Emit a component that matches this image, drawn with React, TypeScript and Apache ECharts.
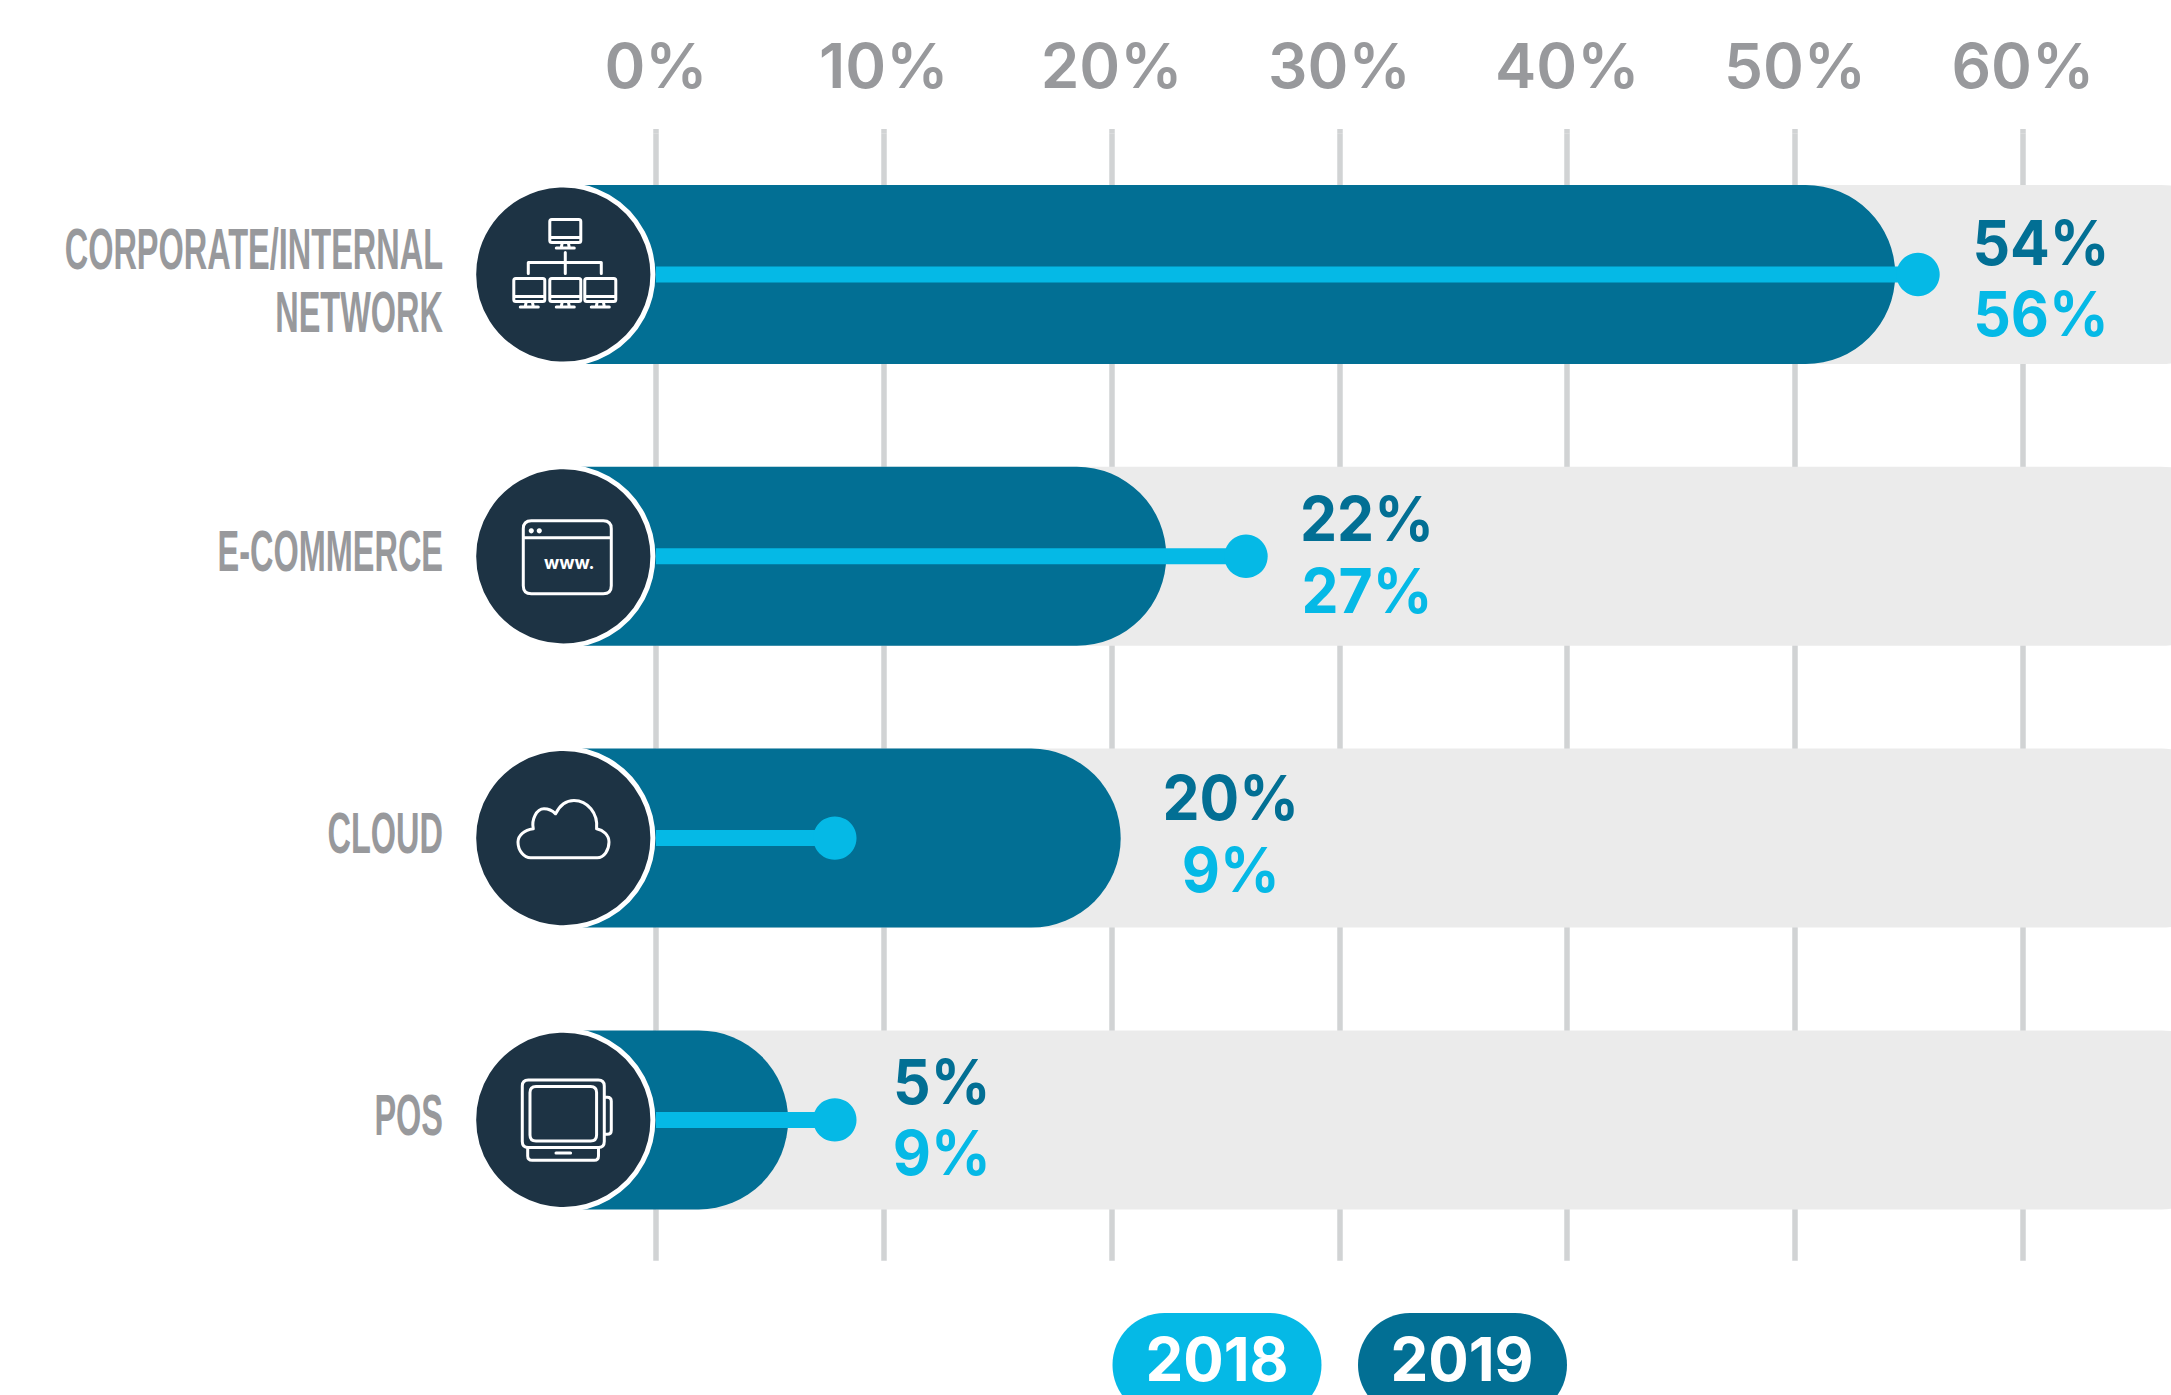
import React, { useEffect, useRef } from "react";
import * as echarts from "echarts";

const categories = ["CORPORATE/INTERNAL\nNETWORK", "E-COMMERCE", "CLOUD", "POS"];
const tickValues = [0, 10, 20, 30, 40, 50, 60];
const values2019 = [54.4, 22.4, 20.4, 5.8];
const values2018 = [55.4, 25.9, 7.85, 7.85];
const labels2019 = ["54%", "22%", "20%", "5%"];
const labels2018 = ["56%", "27%", "9%", "9%"];
const legendYears = ["2018", "2019"];

// layout
const W = 2171, H = 1395;
const PX_PER_UNIT = 22.78;
const AXIS_MIN = -10, AXIS_MAX = 70;
const ZERO_X = 656;
const GRID_TOP = 133.6, GRID_H = 1127.2;
const BAND_H = 179;
const R = BAND_H / 2;
const ICON_VALUE = -4.07;
const LABEL_DX = [123, 121, 110, 107];
const LABEL_DY = [[-32, 39], [-37.5, 34.5], [-40.5, 31.5], [-38.5, 32.5]];
const CAT_DY = [6, -4.5, -4.5, -4.5];
const TRACK_END = 70;

const DARK = "#026f94";
const LIGHT = "#05b9e6";
const NAVY = "#1d3344";
const TRACK = "#ebebeb";
const GRID = "#d1d3d4";
const GREY = "#98999c";
const NUM_FONT = "Inter";
const CAT_FONT = "'Liberation Sans'";

const monitor = (cx: number, y: number) => {
  const l = cx - 15.5, r = cx + 15.5;
  return `M${l + 2} ${y}H${r - 2}Q${r} ${y} ${r} ${y + 2}V${y + 21}Q${r} ${y + 23} ${r - 2} ${y + 23}H${l + 2}Q${l} ${y + 23} ${l} ${y + 21}V${y + 2}Q${l} ${y} ${l + 2} ${y}Z` +
    `M${l} ${y + 18}H${r}M${cx - 3} ${y + 23}L${cx - 4} ${y + 28}M${cx + 3} ${y + 23}L${cx + 4} ${y + 28}M${cx - 9} ${y + 28.5}H${cx + 9}`;
};
const roundRectPath = (l: number, t: number, r: number, b: number, c: number) =>
  `M${l + c} ${t}H${r - c}Q${r} ${t} ${r} ${t + c}V${b - c}Q${r} ${b} ${r - c} ${b}H${l + c}Q${l} ${b} ${l} ${b - c}V${t + c}Q${l} ${t} ${l + c} ${t}Z`;

const iconPaths = [
  monitor(2, -55) + monitor(-34, 4) + monitor(2, 4) + monitor(37, 4) + "M2 -22V-1M-35 -1V-12H38V-1",
  roundRectPath(-40, -35.5, 48, 37.5, 8) + "M-40 -18.5H48",
  "M-32.7 19.7H34C41 19.7 45.7 12 45.7 4C45.7 -3 40 -8 33.3 -9.3C35 -25 24 -37.7 10.7 -37.7C2 -37.7 -4 -32 -7.7 -24.3C-11 -27.5 -15 -29.3 -19.3 -29.3C-27 -29.3 -32 -18 -30 -9.3C-39 -8 -45.3 -3 -45.3 4C-45.3 13 -39 19.7 -32.7 19.7Z",
  roundRectPath(-41, -40, 41, 27.7, 6) + roundRectPath(-33.3, -33.3, 33.3, 21, 6) +
    "M41 -22.7H44Q48 -22.7 48 -18.7V10.3Q48 14.3 44 14.3H41M-35.6 27.7V36Q-35.6 40.3 -31 40.3H31Q35.2 40.3 35.2 36V27.7M-7.3 33H7.3",
];

export default function App() {
  const ref = useRef<HTMLDivElement>(null);
  useEffect(() => {
    const chart = echarts.init(ref.current!, null, { renderer: "svg", width: W, height: H });
    const idx = categories.map((_, i) => i);
    const yAxisBase = { type: "category", inverse: true, show: false, data: categories, gridIndex: 0 };
    chart.setOption({
      animation: false,
      backgroundColor: "#fff",
      grid: { left: ZERO_X + AXIS_MIN * PX_PER_UNIT, top: GRID_TOP, width: (AXIS_MAX - AXIS_MIN) * PX_PER_UNIT, height: GRID_H, containLabel: false, outerBoundsMode: "none" },
      xAxis: {
        type: "value", position: "top", min: AXIS_MIN, max: AXIS_MAX, interval: 10,
        axisLine: { show: false },
        axisTick: { show: true, customValues: tickValues, length: 4.6, lineStyle: { color: GRID, width: 5.5 } },
        splitLine: { show: true, lineStyle: { color: GRID, width: 5.5 } },
        axisLabel: {
          customValues: tickValues, formatter: (v: number) => `${v}%`, margin: 68, verticalAlign: "middle",
          color: GREY, fontFamily: NUM_FONT, fontWeight: 600, fontSize: 62,
        },
      },
      yAxis: [yAxisBase, yAxisBase, yAxisBase],
      series: [
        {
          type: "bar", name: "Track", yAxisIndex: 0, barWidth: BAND_H, z: 2, silent: true,
          data: categories.map(() => TRACK_END),
          itemStyle: { color: TRACK, borderRadius: [0, R, R, 0] },
        },
        {
          type: "bar", name: "2019", yAxisIndex: 1, stack: "dark", barWidth: BAND_H, z: 3,
          data: values2019, itemStyle: { color: DARK, borderRadius: [0, R, R, 0] },
        },
        {
          type: "bar", name: "2019 start", yAxisIndex: 1, stack: "dark", barWidth: BAND_H, z: 3,
          data: categories.map(() => ICON_VALUE), itemStyle: { color: DARK },
        },
        {
          type: "bar", name: "2018", yAxisIndex: 2, barWidth: 16, z: 4,
          data: values2018, itemStyle: { color: LIGHT },
        },
        {
          type: "scatter", name: "2018 point", yAxisIndex: 2, symbol: "circle", symbolSize: 43.4, z: 5,
          data: values2018.map((v, i) => [v, i]), itemStyle: { color: LIGHT, opacity: 1 },
        },
        {
          type: "custom", name: "Icons", yAxisIndex: 0, z: 6, silent: true,
          data: idx.map((i) => [ICON_VALUE, i]),
          renderItem: (_: any, api: any) => {
            const i = api.value(1);
            const [x, y] = api.coord([api.value(0), i]);
            const stroke = { fill: "none", stroke: "#fff", lineWidth: 3, lineJoin: "round", lineCap: "round" };
            const children: any[] = [
              { type: "circle", shape: { cx: 0, cy: 0, r: 89.6 }, style: { fill: NAVY, stroke: "#fff", lineWidth: 5 } },
              { type: "path", shape: { pathData: iconPaths[i] }, style: stroke },
            ];
            if (i === 1) {
              children.push(
                { type: "circle", shape: { cx: -32, cy: -25.5, r: 2.6 }, style: { fill: "#fff" } },
                { type: "circle", shape: { cx: -24, cy: -25.5, r: 2.6 }, style: { fill: "#fff" } },
                { type: "text", x: 6, y: 6, style: { text: "www.", fill: "#fff", fontFamily: "Inter", fontWeight: 700, fontSize: 18, align: "center", verticalAlign: "middle" } },
              );
            }
            return { type: "group", x, y, children };
          },
        },
        {
          type: "custom", name: "Categories", yAxisIndex: 0, z: 6, silent: true,
          data: idx.map((i) => [0, i]),
          renderItem: (_: any, api: any) => {
            const i = api.value(1);
            const [, y] = api.coord([0, i]);
            return {
              type: "text", x: 443, y: y + CAT_DY[i], scaleX: 0.57,
              style: { text: categories[i], fill: GREY, fontFamily: CAT_FONT, fontWeight: 700, fontSize: 57, lineHeight: 63, align: "right", verticalAlign: "middle" },
            };
          },
        },
        {
          type: "custom", name: "Value labels", yAxisIndex: 0, z: 7, silent: true,
          data: idx.map((i) => [Math.max(values2018[i], i === 2 ? values2019[i] : 0), i]),
          renderItem: (_: any, api: any) => {
            const i = api.value(1);
            const [x, y] = api.coord([api.value(0), i]);
            const base = { fontFamily: NUM_FONT, fontWeight: 700, fontSize: 62, align: "center", verticalAlign: "middle" };
            return {
              type: "group", x: x + LABEL_DX[i], y, scaleX: 0.95,
              children: [
                { type: "text", y: LABEL_DY[i][0], style: { ...base, text: labels2019[i], fill: DARK } },
                { type: "text", y: LABEL_DY[i][1], style: { ...base, text: labels2018[i], fill: LIGHT } },
              ],
            };
          },
        },
      ],
      graphic: legendYears.flatMap((year, i) => {
        const left = i === 0 ? 1112.5 : 1358;
        const cx = i === 0 ? 1217 : 1462;
        return [
          { type: "rect", x: left, y: 1313, shape: { width: 209, height: 104, r: 52 }, style: { fill: i === 0 ? LIGHT : DARK } },
          { type: "text", x: cx, y: 1358.5, style: { text: year, fill: "#fff", fontFamily: NUM_FONT, fontWeight: 700, fontSize: 60, lineHeight: 50, align: "center", verticalAlign: "middle" } },
        ];
      }),
    });
    return () => chart.dispose();
  }, []);
  return <div ref={ref} style={{ position: "fixed", left: 0, top: 0, width: W, height: H, overflow: "hidden" }} />;
}
